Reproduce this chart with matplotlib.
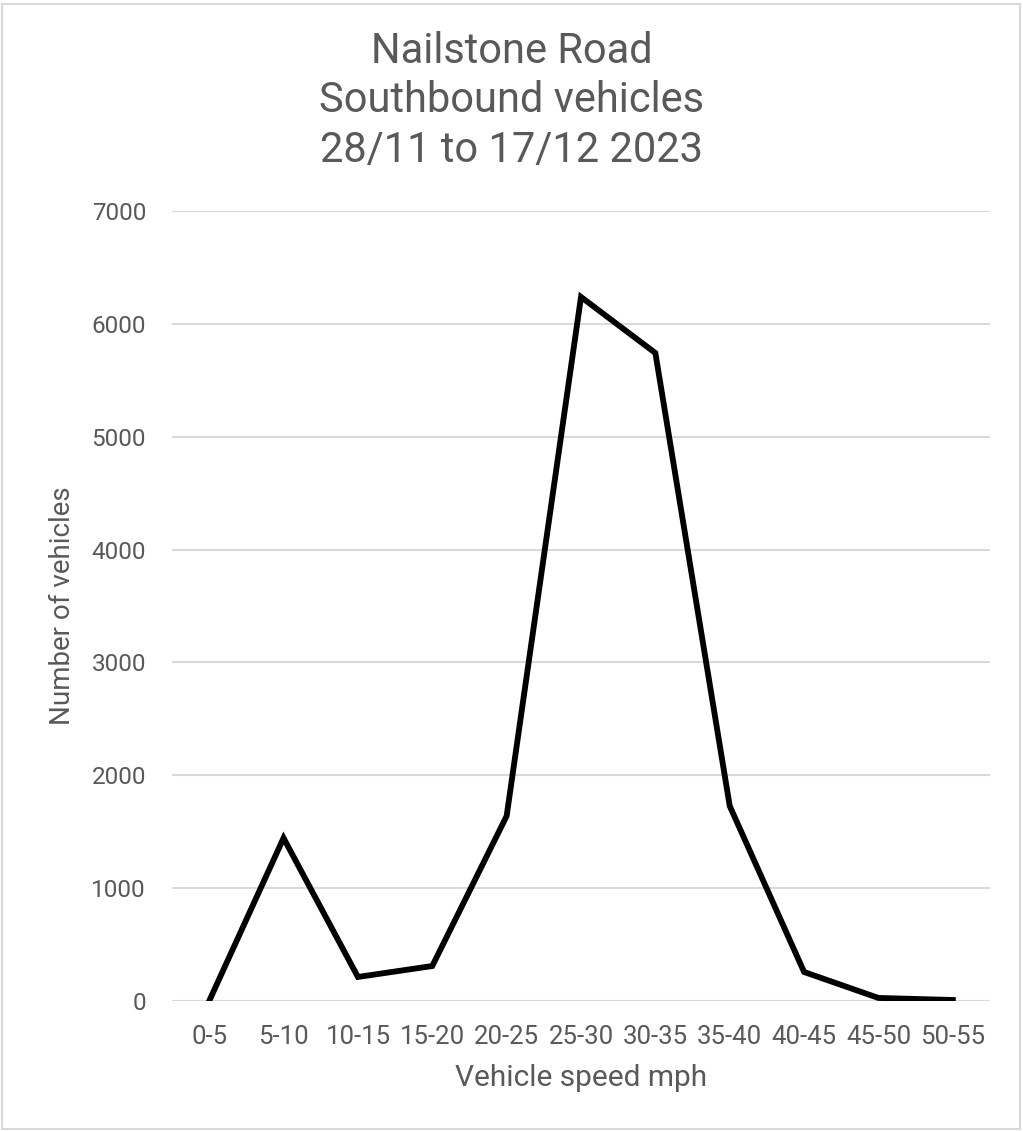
import matplotlib.pyplot as plt
from matplotlib.patches import Rectangle

# data
speed_bins = ['0-5', '5-10', '10-15', '15-20', '20-25', '25-30',
              '30-35', '35-40', '40-45', '45-50', '50-55']
vehicles = [0, 1444, 213, 310, 1639, 6238, 5742, 1728, 257, 27, 9]
y_ticks = [0, 1000, 2000, 3000, 4000, 5000, 6000, 7000]

GREY = '#595959'
fam = ['Roboto', 'DejaVu Sans']

W, H = 1023, 1131
fig = plt.figure(figsize=(W / 100, H / 100), dpi=100)
ax = fig.add_axes([172 / W, 130 / H, (990 - 172) / W, (1001 - 211) / H])

x = list(range(len(speed_bins)))
ax.plot(x, vehicles, color='black', linewidth=4.2, solid_joinstyle='miter', zorder=3)

ax.set_xlim(-0.5, len(speed_bins) - 0.5)
ax.set_ylim(0, 7000)
ax.set_yticks(y_ticks)
ax.set_yticklabels([str(v) for v in y_ticks], fontsize=17.5, color=GREY, family=fam)
ax.set_xticks(x)
ax.set_xticklabels(speed_bins, fontsize=18.5, color=GREY, family=fam)
ax.tick_params(axis='both', length=0)
ax.tick_params(axis='y', pad=18.7)
ax.tick_params(axis='x', pad=17)

ax.grid(axis='y', color='#d9d9d9', linewidth=1.5)
ax.set_axisbelow(True)
for s in ax.spines.values():
    s.set_visible(False)

fig.text(581 / W, 1 - 1078 / H, 'Vehicle speed mph', ha='center', va='center',
         fontsize=21.5, color=GREY, family=fam)
fig.text(62 / W, 1 - 606 / H, 'Number of vehicles', rotation=90, ha='center', va='center',
         fontsize=20, color=GREY, family=fam)

fig.text(0.5, 1 - 101 / H, 'Nailstone Road\nSouthbound vehicles\n28/11 to 17/12 2023',
         ha='center', va='center', fontsize=30, color=GREY, family=fam, linespacing=1.28)

# light frame round the chart
fig.patches.append(Rectangle((2 / W, 2 / H), 1 - 5 / W, 1 - 6 / H, transform=fig.transFigure,
                             fill=False, edgecolor='#d9d9d9', linewidth=1.5))

fig.savefig('out.png', dpi=100)
